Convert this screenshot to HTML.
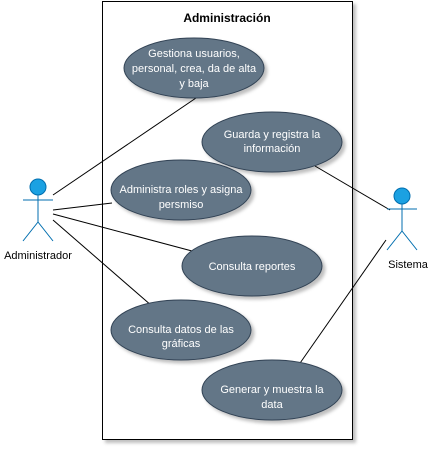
<!DOCTYPE html>
<html><head><style>body{margin:0;background:#fff}</style></head><body>
<svg width="440" height="453" xmlns="http://www.w3.org/2000/svg" font-family="Liberation Sans, sans-serif">
<defs><filter id="s" x="-20%" y="-20%" width="150%" height="150%"><feDropShadow dx="3" dy="3" stdDeviation="1.5" flood-color="#000" flood-opacity="0.25"/></filter></defs>
<rect x="102.5" y="1.5" width="250" height="438" fill="#fff" stroke="#000" filter="url(#s)"/>
<text x="227" y="22" text-anchor="middle" font-size="12" font-weight="bold">Administración</text>
<g stroke="#000" stroke-width="1">
<line x1="53" y1="195" x2="196" y2="98"/>
<line x1="53" y1="210" x2="112" y2="203"/>
<line x1="53" y1="214" x2="192" y2="251"/>
<line x1="53" y1="220" x2="152" y2="306"/>
<line x1="390" y1="210" x2="315" y2="166"/>
<line x1="386" y1="240" x2="298" y2="366"/>
</g>
<g fill="#647687" stroke="#314354" filter="url(#s)">
<ellipse cx="194" cy="68" rx="70" ry="30"/>
<ellipse cx="272" cy="142" rx="70" ry="30"/>
<ellipse cx="181" cy="190" rx="70" ry="30"/>
<ellipse cx="252" cy="266" rx="70" ry="30"/>
<ellipse cx="181" cy="330" rx="70" ry="30"/>
<ellipse cx="272" cy="390" rx="70" ry="30"/>
</g>
<g fill="#fff" font-size="11" text-anchor="middle">
<text x="194" y="57">Gestiona usuarios,</text><text x="194" y="72">personal, crea, da de alta</text><text x="194" y="87">y baja</text>
<text x="272" y="138">Guarda y registra la</text><text x="272" y="152">información</text>
<text x="181" y="193">Administra roles y asigna</text><text x="181" y="208">persmiso</text>
<text x="252" y="270">Consulta reportes</text>
<text x="181" y="333">Consulta datos de las</text><text x="181" y="347">gráficas</text>
<text x="272" y="393">Generar y muestra la</text><text x="272" y="408">data</text>
</g>
<g stroke="#006EAF" fill="none">
<circle cx="38" cy="187" r="8" fill="#1BA1E2"/>
<line x1="38" y1="195" x2="38" y2="222"/><line x1="23" y1="200" x2="53" y2="200"/>
<polyline points="23,241 38,222 53,241"/>
<circle cx="402" cy="196" r="8" fill="#1BA1E2"/>
<line x1="402" y1="204" x2="402" y2="231"/><line x1="387" y1="209" x2="417" y2="209"/>
<polyline points="387,250 402,231 417,250"/>
</g>
<g font-size="11" text-anchor="middle" fill="#000">
<text x="38" y="259">Administrador</text>
<text x="408" y="268">Sistema</text>
</g>
</svg>
</body></html>
